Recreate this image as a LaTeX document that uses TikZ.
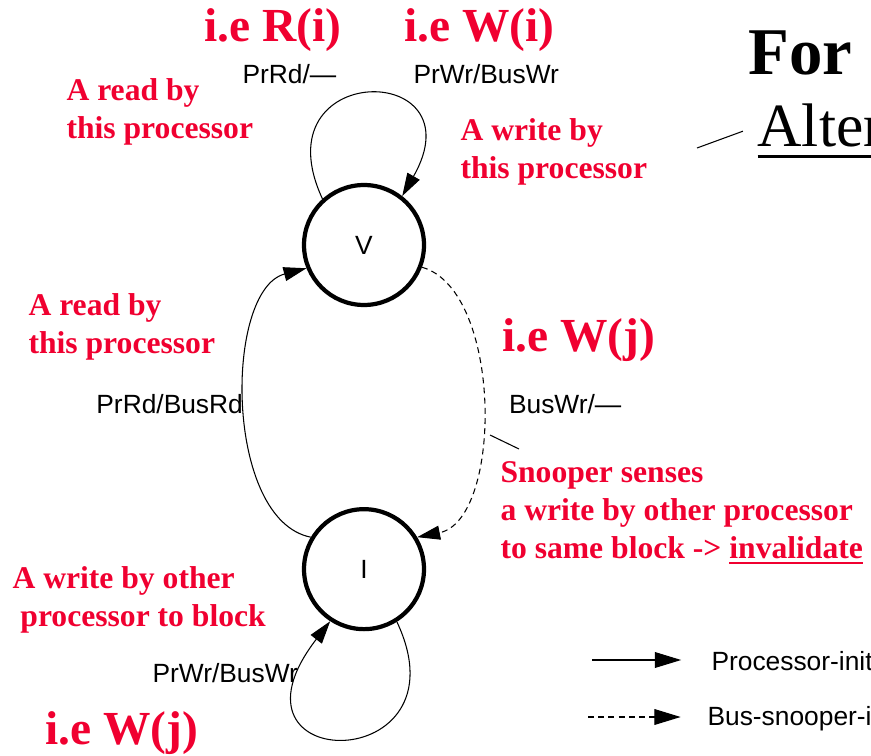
\documentclass[tikz,border=0pt]{standalone}
\usepackage{fontspec}
\setmainfont{Liberation Serif}
\setsansfont{Liberation Sans}
\usetikzlibrary{arrows.meta, positioning}
\definecolor{notered}{RGB}{240,0,48}
\newcommand{\undl}[3]{\vtop{\hbox{#3}\kern#1\hrule height#2}}
\tikzset{
  state/.style={circle, draw, line width=2.4pt, minimum size=2.4cm, inner sep=0pt, font=\sffamily\fontsize{15}{18}\selectfont},
  note/.style={text=notered, font=\bfseries\fontsize{18}{21.6}\selectfont, align=left, anchor=west, inner sep=0pt},
  ie/.style={text=notered, font=\bfseries\fontsize{27}{32}\selectfont, anchor=west, inner sep=0pt},
  act/.style={font=\sffamily\fontsize{15}{18}\selectfont, inner sep=0pt},
  title/.style={anchor=base west, inner sep=0pt},
  legarrow/.style={-{Triangle[length=15pt,width=9pt]}},
}
\begin{document}
\begin{tikzpicture}[x=0.02cm, y=-0.02cm, line width=0.6pt, >={Triangle[length=13pt,width=8pt]}, node distance=4cm]
	\useasboundingbox (0,0) rectangle (871,756);
	\clip (0,0) rectangle (871,756);
	% states
	\node[state] (V) at (364,245) {V};
	\node[state] (I) [below=of V] {I};
	% transitions
	\draw[->] (V.132) .. controls (258,60) and (480,60) .. (V.52);
	\draw[->] (I.302) .. controls (470,777) and (210,777) .. (I.237);
	\draw[->] (I.149) .. controls (224,520) and (224,290) .. (V.202)
		node[act, pos=0.5, left=1pt] (rdbus) {PrRd/BusRd};
	\draw[->, dash pattern=on 3.4pt off 2.4pt] (V.339) .. controls (503,290) and (503,520) .. (I.31)
		node[act, pos=0.5, right=15pt] (wrsnoop) {BusWr/—};
	% action labels
	\node[act, anchor=west] (rdhit) at (242,74) {PrRd/—};
	\node[act, anchor=west] (wrhit) at (413,74) {PrWr/BusWr};
	\node[act, anchor=west] (wrmiss) at (152,673) {PrWr/BusWr};
	% red notes
	\node[ie] (ieri) at (204,30) {i.e R(i)};
	\node[ie] (iewi) at (404,30) {i.e W(i)};
	\node[ie] (iewj) at (502,340) {i.e W(j)};
	\node[ie] (iewjb) at (45,733) {i.e W(j)};
	\node[note] (rdtop) at (66,112) {A read by\\this processor};
	\node[note] (wrtop) at (460,152) {A write by\\this processor};
	\node[note] (rdmid) at (28,327) {A read by\\this processor};
	\node[note] (snoop) at (500,513) {Snooper senses\\a write by other processor\\to same block -> \undl{1.5pt}{1.2pt}{invalidate}};
	\node[note] (wrother) at (12,600) {A write by other\\\hspace{4.5pt}processor to block};
	\coordinate (snoophead) at (490,435);
	\coordinate (snooptail) at (519,449);
	\draw (snoophead) -- (snooptail);
	% heading
	\node[title, font=\bfseries\fontsize{38}{40}\selectfont] (for) at (748,75) {For};
	\node[title, font=\fontsize{35}{40}\selectfont] (alter) at (757,147) {\undl{4pt}{2.2pt}{Alter}};
	\coordinate (altertail) at (697,148);
	\draw (altertail) -- ([xshift=-8pt, yshift=9pt]alter.base west);
	% legend
	\node[act, anchor=west] (procleg) at (711,661) {Processor-initi};
	\node[act, anchor=west] (busleg) at (707,719) {Bus-snooper-i};
	\coordinate (proctail) at (592,660);
	\coordinate (bustail) at (588,717);
	\draw[legarrow] (proctail) -- ([xshift=-17pt]procleg.west |- proctail);
	\draw[legarrow, dash pattern=on 3.4pt off 2.4pt] (bustail) -- ([xshift=-15pt]busleg.west |- bustail);
\end{tikzpicture}
\end{document}
